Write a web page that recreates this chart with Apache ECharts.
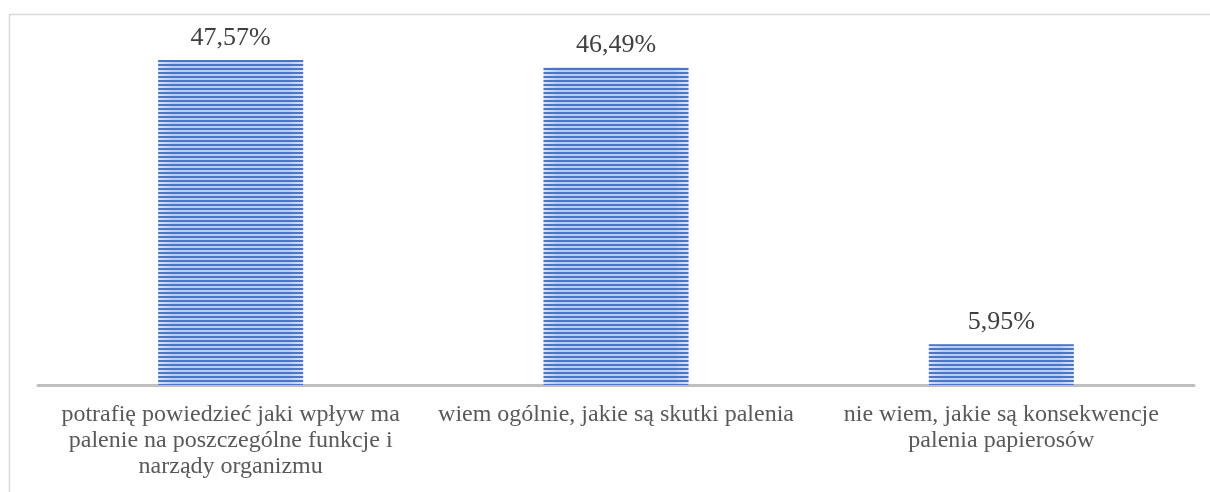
<!DOCTYPE html>
<html>
<head>
<meta charset="utf-8">
<script src="https://cdn.jsdelivr.net/npm/echarts@6/dist/echarts.min.js"></script>
<style>
html,body{margin:0;padding:0;background:#fff;}
#c{width:1210px;height:492px;}
</style>
</head>
<body>
<div id="c"></div>
<script>
const categories = [
  "potrafię powiedzieć jaki wpływ ma\npalenie na poszczególne funkcje i\nnarządy organizmu",
  "wiem ogólnie, jakie są skutki palenia",
  "nie wiem, jakie są konsekwencje\npalenia papierosów"
];
const values = [47.57, 46.49, 5.95];
const valueLabels = ["47,57%", "46,49%", "5,95%"];

const chart = echarts.init(document.getElementById('c'), null, {renderer: 'canvas'});
chart.setOption({
  animation: false,
  backgroundColor: '#ffffff',
  graphic: [{
    type: 'rect',
    shape: {x: 9.5, y: 14.5, width: 1400, height: 700},
    style: {fill: 'none', stroke: '#d9d9d9', lineWidth: 1.5},
    silent: true
  }],
  grid: {left: 38, right: 16, top: 43.4, bottom: 107, containLabel: false},
  xAxis: {
    type: 'category',
    data: categories,
    axisLine: {show: true, lineStyle: {color: '#bfbfbf', width: 3}},
    axisTick: {show: false},
    axisLabel: {
      interval: 0,
      margin: 17,
      color: '#595959',
      fontFamily: 'Liberation Serif',
      fontSize: 24,
      lineHeight: 26,
      align: 'center'
    }
  },
  yAxis: {
    type: 'value',
    min: 0,
    max: 50,
    show: false,
    splitLine: {show: false}
  },
  series: [{
    type: 'bar',
    data: values,
    barWidth: 145,
    itemStyle: {
      color: {
        type: 'linear', x: 0, y: 0, x2: 1, y2: 0,
        colorStops: [
          {offset: 0, color: '#dbe4f5'},
          {offset: 0.1, color: '#b9cbec'},
          {offset: 0.9, color: '#b9cbec'},
          {offset: 1, color: '#dbe4f5'}
        ]
      },
      decal: {
        symbol: 'rect',
        symbolSize: 1,
        dashArrayX: [1, 0],
        dashArrayY: [2, 2],
        rotation: 0,
        color: '#4a76c6'
      }
    },
    label: {
      show: true,
      position: 'top',
      distance: 9,
      color: '#404040',
      fontFamily: 'Liberation Serif',
      fontSize: 26,
      formatter: function (p) { return valueLabels[p.dataIndex]; }
    }
  }]
});
</script>
</body>
</html>
